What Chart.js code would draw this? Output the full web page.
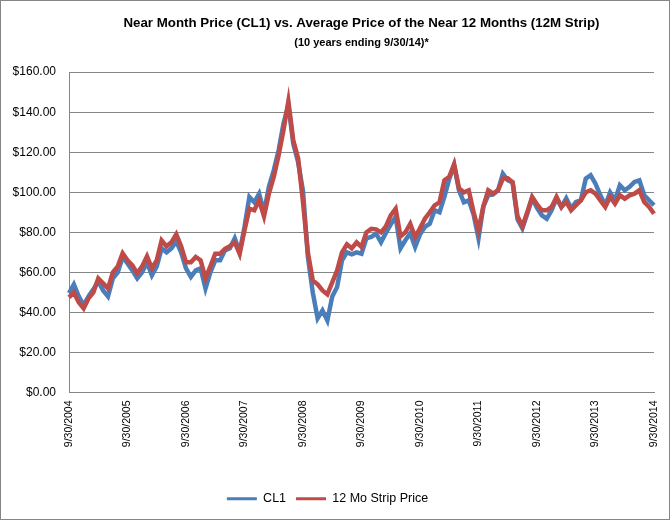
<!DOCTYPE html>
<html lang="en">
<head>
    <meta charset="UTF-8">
    <title>Near Month Price (CL1) vs. 12M Strip</title>
    <script src="https://cdn.jsdelivr.net/npm/chart.js"></script>
    <style>
        body {
            margin: 0;
            background: #fff;
        }
        #wrap {
            width: 668px;
            height: 518px;
            border: 1px solid #868686;
        }
    </style>
</head>
<body>

<div id="wrap"><canvas id="oilChart" width="668" height="518"></canvas></div>

<script>
    // month-end prices, 9/30/2004 .. 9/30/2014
    const cl1 = [
        49.6, 54, 48, 43.5, 48, 51.5, 55.5, 51, 48, 57, 60, 67.7,
        64.5, 61, 57, 60, 65, 58.5, 63, 72, 70, 72, 75.5, 70,
        62, 57.7, 61, 62, 52, 60, 66, 66, 71, 72, 77, 70,
        82.7, 97.7, 95, 99.3, 90, 102.7, 111, 121, 134.3, 143.5, 124.3, 115,
        100.6, 67.8, 50, 37, 41, 36, 48, 52.7, 66, 70, 69, 70,
        69.3, 77, 77.7, 79.3, 75, 79.7, 84, 87.7, 72, 76, 79.5, 72.7,
        79, 82.7, 84.3, 91, 90, 97.7, 106.7, 113.5, 101, 95, 96, 88.8,
        77, 93, 98.5, 99, 101, 109.3, 106, 104.9, 86.5, 82, 89.3, 97,
        92.2, 88.5, 86.8, 91, 97, 92.7, 97, 92, 95.2, 96, 106.8, 108.5,
        104.3, 98.5, 93.5, 100, 96, 103.5, 101, 102.7, 105.2, 106, 98.5, 96,
        93.5
    ];
    const strip12 = [
        47.5, 50, 45, 42, 47, 50, 57, 54.5, 52, 60, 63, 69.5,
        66, 63.5, 59.5, 63, 68, 62, 66, 76, 73, 75, 79, 73,
        65, 65, 67.7, 66, 57, 63, 69.3, 69.3, 71.8, 73, 75, 69.3,
        81, 91.8, 91, 96, 88, 99.3, 107.7, 118.5, 131, 145.5, 126, 117,
        95, 70, 56, 54, 51, 49, 55, 61, 70, 74, 72, 75,
        72.7, 80, 81.8, 81.5, 80, 83, 88.5, 91.8, 78, 80, 84.3, 77.7,
        82, 86.8, 90, 93.5, 95, 106, 107.7, 114, 102, 100, 101, 90,
        81, 93, 101, 99.3, 101, 106.8, 107, 105, 88, 83, 90, 97.7,
        94, 91, 91, 92.7, 97.7, 92.7, 95.2, 91, 93.5, 96, 100, 101,
        99.3, 96, 92.7, 97.7, 94.3, 98.5, 96.8, 98.5, 99.3, 101, 95.2, 92.7,
        89.3
    ];
    const yearTicks = [
        '9/30/2004', '9/30/2005', '9/30/2006', '9/30/2007', '9/30/2008', '9/30/2009',
        '9/30/2010', '9/30/2011', '9/30/2012', '9/30/2013', '9/30/2014'
    ];
    const seriesNames = ['CL1', '12 Mo Strip Price'];

    // one category per month, starting Sep 2004
    const months = cl1.map((v, i) => {
        const m = (8 + i) % 12 + 1;
        const y = 2004 + Math.floor((8 + i) / 12);
        return m + '/' + y;
    });

    const FONT = "'Liberation Sans', Arial, sans-serif";

    const ctx = document.getElementById('oilChart').getContext('2d');
    new Chart(ctx, {
        type: 'line',
        data: {
            labels: months,
            datasets: [
                {
                    label: seriesNames[0],
                    data: cl1,
                    borderColor: '#4A7EBB',
                    backgroundColor: '#4A7EBB',
                    borderWidth: 4.5,
                    pointRadius: 0,
                    tension: 0,
                    order: 1
                },
                {
                    label: seriesNames[1],
                    data: strip12,
                    borderColor: '#BE4B48',
                    backgroundColor: '#BE4B48',
                    borderWidth: 4.5,
                    pointRadius: 0,
                    tension: 0,
                    order: 0  // red sits on top of blue
                }
            ]
        },
        options: {
            responsive: false,
            animation: false,
            events: [],
            layout: { padding: { left: 0, right: 15, top: 6, bottom: 4 } },
            plugins: {
                title: {
                    display: true,
                    text: 'Near Month Price (CL1) vs. Average Price of the Near 12 Months (12M Strip)',
                    color: '#000',
                    fullSize: false,
                    font: { family: FONT, size: 13.3, weight: 'bold' },
                    padding: { top: 8, bottom: 0 }
                },
                subtitle: {
                    display: true,
                    text: '(10 years ending 9/30/14)*',
                    color: '#000',
                    fullSize: false,
                    font: { family: FONT, size: 11, weight: 'bold' },
                    padding: { top: 5, bottom: 23 }
                },
                legend: {
                    position: 'bottom',
                    labels: {
                        boxWidth: 30,
                        boxHeight: 3,
                        color: '#000',
                        padding: 10,
                        font: { family: FONT, size: 12.5 },
                        sort: (a, b) => a.datasetIndex - b.datasetIndex,
                        // flat line swatch, no outline
                        generateLabels: chart => Chart.defaults.plugins.legend.labels
                            .generateLabels(chart)
                            .map(item => Object.assign(item, { lineWidth: 0 }))
                    }
                },
                tooltip: { enabled: false }
            },
            scales: {
                x: {
                    grid: { display: false },
                    border: { color: '#868686' },
                    ticks: {
                        autoSkip: false,
                        minRotation: 90,
                        maxRotation: 90,
                        padding: 0,
                        color: '#000',
                        font: { family: FONT, size: 10.5 },
                        callback: (val, i) => (i % 12 === 0 ? yearTicks[i / 12] : '')
                    },
                    afterFit: s => {
                        s.height = 90;
                        s.paddingRight = 0;
                        s.paddingLeft = 0;
                    }
                },
                y: {
                    min: 0,
                    max: 160,
                    grid: { color: '#868686', drawTicks: false },
                    border: { color: '#868686' },
                    ticks: {
                        stepSize: 20,
                        padding: 13,
                        color: '#000',
                        font: { family: FONT, size: 12 },
                        callback: v => '$' + v.toFixed(2)
                    },
                    afterFit: s => { s.width = 68; }
                }
            }
        }
    });
</script>

</body>
</html>
